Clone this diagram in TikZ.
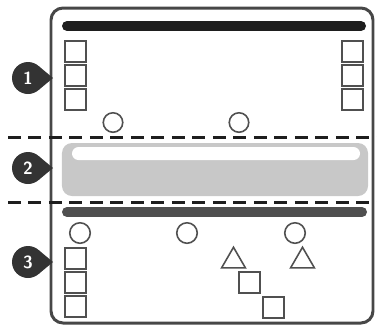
\documentclass[tikz,border=0pt]{standalone}
\usepackage{tikz}
\usetikzlibrary{shapes.geometric}
\definecolor{ink}{HTML}{1E1E1E}
\definecolor{framegray}{HTML}{474747}
\definecolor{shapegray}{HTML}{505050}
\definecolor{bargray}{HTML}{4F4F4F}
\definecolor{zonegray}{HTML}{C8C8C8}
\definecolor{markdark}{HTML}{333333}
\definecolor{paper}{HTML}{FFFFFF}
\tikzset{
  framebox/.style={draw=framegray,line width=1.7pt,rounded corners=0.24cm},
  slotbox/.style={draw=shapegray,fill=paper,line width=0.9pt,minimum size=0.42cm,inner sep=0pt,outer sep=0pt},
  holedot/.style={draw=shapegray,fill=paper,line width=0.9pt,circle,minimum size=0.39cm,inner sep=0pt},
  warntri/.style={draw=shapegray,fill=paper,line width=0.9pt,regular polygon,regular polygon sides=3,minimum size=0.55cm,inner sep=0pt},
  railbar/.style={line width=0.2cm,line cap=round},
  cutline/.style={draw=ink,line width=1.7pt,dash pattern=on 0.26cm off 0.15cm},
  markdot/.style={circle,fill=markdark,text=paper,minimum size=0.64cm,inner sep=0pt,outer sep=0pt,font=\sffamily\bfseries}
}
\begin{document}
\begin{tikzpicture}[x=0.2mm,y=-0.2mm]
  \useasboundingbox (0,0) rectangle (377,326);
  \draw[framebox] (51,8) rectangle (373,323);
  \draw[railbar,draw=ink] (67,26) -- (361,26);

  \node[slotbox] (tl1) at (75.5,51.5) {};
  \node[slotbox] (tl2) at (75.5,75.5) {};
  \node[slotbox] (tl3) at (75.5,99.5) {};
  \node[slotbox] (tr1) at (352.5,51.5) {};
  \node[slotbox] (tr2) at (352.5,75.5) {};
  \node[slotbox] (tr3) at (352.5,99.5) {};
  \node[holedot] (th1) at (113,122.5) {};
  \node[holedot] (th2) at (239,122.5) {};

  \draw[cutline] (8,137) -- (377,137);
  \node[fill=zonegray,rounded corners=0.2cm,minimum width=6.12cm,minimum height=1.06cm,inner sep=0pt] (zone) at (215,169.5) {};
  \node[fill=paper,rounded corners=0.13cm,minimum width=5.76cm,minimum height=0.26cm,inner sep=0pt] (slit) at (216,153.5) {};
  \draw[cutline] (8,202) -- (377,202);

  \draw[railbar,draw=bargray] (67,212) -- (362,212);
  \node[holedot,minimum size=0.41cm] (bh1) at (80,233) {};
  \node[holedot,minimum size=0.41cm] (bh2) at (187,233) {};
  \node[holedot,minimum size=0.41cm] (bh3) at (295,233) {};
  \node[slotbox] (bl1) at (75.5,258.5) {};
  \node[slotbox] (bl2) at (75.5,282.5) {};
  \node[slotbox] (bl3) at (75.5,306.5) {};
  \node[warntri] (tri1) at (233.5,261) {};
  \node[warntri] (tri2) at (302.5,261) {};
  \node[slotbox] (sq1) at (249.5,282.5) {};
  \node[slotbox] (sq2) at (273.5,307.5) {};

  \node[markdot] (m1) at (28,78) {1};
  \fill[markdark] (m1.50) -- (53,78) -- (m1.-50);
  \node[markdot] (m2) at (28,168) {2};
  \fill[markdark] (m2.50) -- (53,168) -- (m2.-50);
  \node[markdot] (m3) at (28,262) {3};
  \fill[markdark] (m3.50) -- (53,262) -- (m3.-50);
\end{tikzpicture}
\end{document}
